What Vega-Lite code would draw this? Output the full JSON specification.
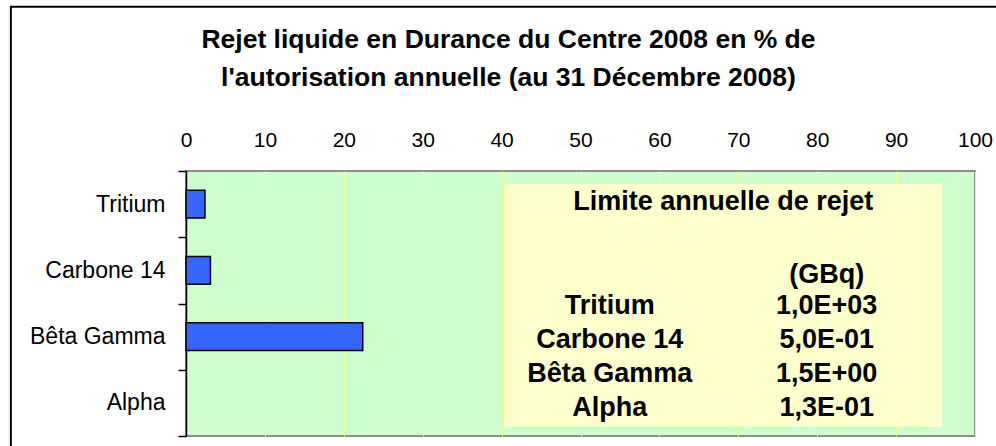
{
  "$schema": "https://vega.github.io/schema/vega-lite/v6.json",
  "width": 789,
  "height": 265,
  "autosize": {"type": "none"},
  "padding": {"left": 186, "top": 171, "right": 21, "bottom": 10},
  "background": "white",
  "config": {
    "font": "Liberation Sans",
    "view": {"fill": "#CCFFCC", "stroke": "#8C8C8C", "strokeWidth": 2}
  },
  "title": {
    "text": ["Rejet liquide en Durance du Centre 2008 en % de", "l'autorisation annuelle (au 31 Décembre 2008)"],
    "font": "Liberation Sans",
    "fontSize": 26.5,
    "fontWeight": "bold",
    "color": "black",
    "lineHeight": 38,
    "anchor": "middle",
    "dx": -72,
    "offset": -86
  },
  "datasets": {
    "rejets": [
      {"categorie": "Tritium", "pourcentage": 2.4},
      {"categorie": "Carbone 14", "pourcentage": 3.1},
      {"categorie": "Bêta Gamma", "pourcentage": 22.4},
      {"categorie": "Alpha", "pourcentage": null}
    ],
    "limites": [
      {"nuclide": "Tritium", "limite": "1,0E+03", "rang": 1},
      {"nuclide": "Carbone 14", "limite": "5,0E-01", "rang": 2},
      {"nuclide": "Bêta Gamma", "limite": "1,5E+00", "rang": 3},
      {"nuclide": "Alpha", "limite": "1,3E-01", "rang": 4}
    ]
  },
  "layer": [
    {
      "data": {"name": "rejets"},
      "mark": {"type": "bar", "fill": "#3366FF", "stroke": "black", "strokeWidth": 1.5, "height": {"band": 0.42}},
      "encoding": {
        "y": {
          "field": "categorie", "type": "nominal", "sort": null,
          "scale": {"domain": ["Tritium", "Carbone 14", "Bêta Gamma", "Alpha"], "paddingInner": 0, "paddingOuter": 0},
          "axis": {"title": null, "orient": "left", "domainColor": "black", "domainWidth": 1.5, "tickColor": "black", "tickWidth": 1.5, "tickSize": 8, "tickBand": "extent", "labelFontSize": 23, "labelColor": "black", "labelPadding": 13, "grid": false}
        },
        "x": {
          "field": "pourcentage", "type": "quantitative",
          "scale": {"domain": [0, 100], "nice": false},
          "axis": {"title": null, "orient": "top", "values": [0, 10, 20, 30, 40, 50, 60, 70, 80, 90, 100], "ticks": false, "tickSize": 0, "domain": false, "labelFontSize": 21, "labelColor": "black", "labelPadding": 21, "labelFlush": false, "grid": true, "gridColor": "#EEFF88", "gridWidth": 1}
        }
      }
    },
    {
      "data": {"values": [{}]},
      "mark": {"type": "rect", "fill": "#FFFFCC"},
      "encoding": {
        "x": {"datum": 40.3, "type": "quantitative"},
        "x2": {"datum": 95.8},
        "y": {"datum": -2.58, "type": "quantitative", "scale": {"domain": [-2.96, 4.82], "reverse": true, "nice": false, "zero": false}, "axis": null},
        "y2": {"datum": 4.55}
      }
    },
    {
      "data": {"values": [{}]},
      "mark": {"type": "rect", "fill": "transparent", "stroke": "black", "strokeWidth": 2},
      "encoding": {
        "x": {"datum": -22.2, "type": "quantitative"},
        "x2": {"datum": 110},
        "y": {"datum": -7.78, "type": "quantitative", "scale": {"domain": [-2.96, 4.82], "reverse": true, "nice": false, "zero": false}, "axis": null},
        "y2": {"datum": 6}
      }
    },
    {
      "data": {"values": [{}]},
      "mark": {"type": "text", "text": "Limite annuelle de rejet", "font": "Liberation Sans", "fontSize": 27, "fontWeight": "bold", "color": "black", "align": "center", "baseline": "middle"},
      "encoding": {
        "x": {"datum": 68.1, "type": "quantitative"},
        "y": {"datum": -2.05, "type": "quantitative", "scale": {"domain": [-2.96, 4.82], "reverse": true, "nice": false, "zero": false}, "axis": null}
      }
    },
    {
      "data": {"values": [{}]},
      "mark": {"type": "text", "text": "(GBq)", "font": "Liberation Sans", "fontSize": 27, "fontWeight": "bold", "color": "black", "align": "center", "baseline": "middle"},
      "encoding": {
        "x": {"datum": 81.2, "type": "quantitative"},
        "y": {"datum": 0.1, "type": "quantitative", "scale": {"domain": [-2.96, 4.82], "reverse": true, "nice": false, "zero": false}, "axis": null}
      }
    },
    {
      "data": {"name": "limites"},
      "mark": {"type": "text", "font": "Liberation Sans", "fontSize": 27, "fontWeight": "bold", "color": "black", "align": "center", "baseline": "middle"},
      "encoding": {
        "x": {"datum": 53.7, "type": "quantitative"},
        "y": {"field": "rang", "type": "quantitative", "scale": {"domain": [-2.96, 4.82], "reverse": true, "nice": false, "zero": false}, "axis": null},
        "text": {"field": "nuclide"}
      }
    },
    {
      "data": {"name": "limites"},
      "mark": {"type": "text", "font": "Liberation Sans", "fontSize": 27, "fontWeight": "bold", "color": "black", "align": "center", "baseline": "middle"},
      "encoding": {
        "x": {"datum": 81.2, "type": "quantitative"},
        "y": {"field": "rang", "type": "quantitative", "scale": {"domain": [-2.96, 4.82], "reverse": true, "nice": false, "zero": false}, "axis": null},
        "text": {"field": "limite"}
      }
    }
  ],
  "resolve": {"scale": {"y": "independent"}, "axis": {"y": "independent"}}
}
